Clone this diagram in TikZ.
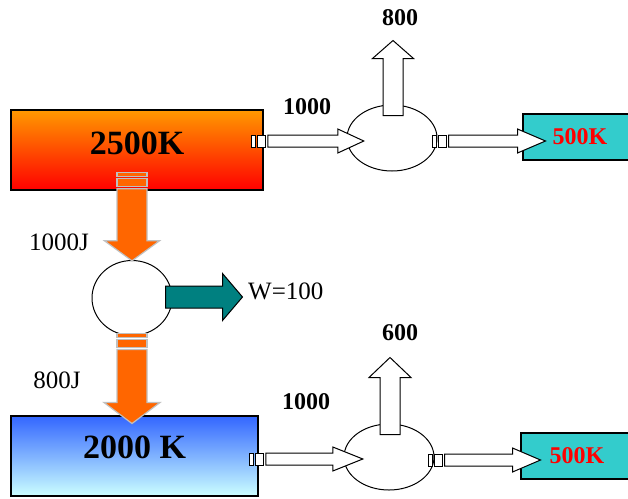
\documentclass[tikz,border=0pt]{standalone}
\usepackage{fontspec}
\setmainfont{Liberation Serif}
\usetikzlibrary{calc,shapes.geometric}

\definecolor{hottop}{HTML}{FF9900}
\definecolor{hotbot}{HTML}{FF0000}
\definecolor{coldtop}{HTML}{3366FF}
\definecolor{coldbot}{HTML}{CCFFFF}
\definecolor{sinkteal}{HTML}{33CCCC}
\definecolor{workteal}{HTML}{008080}
\definecolor{heatorange}{HTML}{FF6600}
\definecolor{silverline}{HTML}{C0C0C0}

\begin{document}
\begin{tikzpicture}[
  x=1pt, y=-1pt,
  tank/.style={draw, line width=1.6pt, inner sep=0pt},
  sink/.style={draw, line width=1.6pt, fill=sinkteal, minimum width=114pt, minimum height=46pt,
    text=red, font=\fontsize{24}{24}\selectfont\bfseries},
  engine/.style={draw, ellipse, line width=1pt, fill=white, inner sep=0pt},
  bignum/.style={font=\fontsize{34}{34}\selectfont\bfseries},
  num/.style={font=\fontsize{24}{24}\selectfont\bfseries},
  lbl/.style={font=\fontsize{25}{25}\selectfont},
  flow/.style={draw, line width=1pt, fill=white},
  heat/.style={draw=silverline, line width=1.2pt, fill=heatorange},
  work/.style={draw, line width=1pt, fill=workteal},
  pics/fatarrow/.style n args={4}{code={
    \draw[pic actions] (0,-#3) -- (#1,-#3) -- (#1,-#4) -- (#1+#2,0) -- (#1,#4) -- (#1,#3) -- (0,#3) -- cycle;
  }},
  pics/stripes/.style={code={
    \draw[pic actions] (-16,-#1) rectangle (-12,#1) (-10,-#1) rectangle (-2,#1);
  }}
]
\useasboundingbox (0,0) rectangle (628,498);

% reservoirs
\node[tank, top color=hottop, bottom color=hotbot, minimum width=252pt, minimum height=80pt] (hot) at (137,150) {};
\node[bignum] (hottxt) at ($(hot.center)+(0,-7)$) {2500K};
\node[tank, top color=coldtop, bottom color=coldbot, minimum width=247pt, minimum height=80pt] (cold) at (134.5,456) {};
\node[bignum] (coldtxt) at ($(cold.center)+(0,-9)$) {2000 K};

\node[sink] (sink1) at (580,137) {500K};
\node[sink, minimum width=112pt] (sink2) at (577,456) {500K};

% engines
\node[engine, minimum width=90pt, minimum height=66pt] (e1) at (392,138) {};
\node[engine, minimum width=90pt, minimum height=66pt] (e2) at (389,457) {};
\node[engine, minimum width=80pt, minimum height=75pt] (circ) at (132,298) {};

% upper engine
\pic[flow] at ($(hot.east)+(4,-9)$) {stripes=6};
\pic[flow] at ($(hot.east)+(4,-9)$) {fatarrow={70}{26}{6}{12}};
\pic[flow] at ($(e1.east)+(11,3)$) {stripes=6};
\pic[flow] at ($(e1.east)+(11,3)$) {fatarrow={69}{28}{6}{12}};
\pic[flow, rotate=90] at ($(e1.north)+(1,11)$) {fatarrow={57}{18}{10}{20.5}};
\node[num] (q1) at (307,107) {1000};
\node[num] (w1) at (400,18) {800};

% lower engine
\pic[flow] at ($(cold.east)+(7,3)$) {stripes=6};
\pic[flow] at ($(cold.east)+(7,3)$) {fatarrow={67}{30}{6}{12}};
\pic[flow] at ($(e2.east)+(10,3)$) {stripes=6};
\pic[flow] at ($(e2.east)+(10,3)$) {fatarrow={68}{28}{6}{12}};
\pic[flow, rotate=90] at ($(e2.north)+(1,11)$) {fatarrow={57}{20}{10}{21}};
\node[num] (q2) at (306,402) {1000};
\node[num] (w2) at (400,333) {600};

% middle engine
\pic[heat, rotate=-90] at ($(circ.north |- hot.south)+(0,-2)$) {stripes=15};
\pic[heat, rotate=-90] at ($(circ.north |- hot.south)+(0,-2)$) {fatarrow={52}{20}{15}{27.5}};
\pic[heat, rotate=-90] at ($(circ.south)+(0,13.5)$) {stripes=15};
\pic[heat, rotate=-90] at ($(circ.south)+(0,13.5)$) {fatarrow={53}{21}{15}{28}};
\pic[work] at ($(circ.east)+(-7,-1)$) {fatarrow={57}{20}{11}{23.5}};

\node[lbl] (qin) at (59,242) {1000J};
\node[lbl] (qout) at (57,380) {800J};
\node[lbl, anchor=west, inner sep=0pt] (wout) at (248,291) {W=100};

\end{tikzpicture}
\end{document}
